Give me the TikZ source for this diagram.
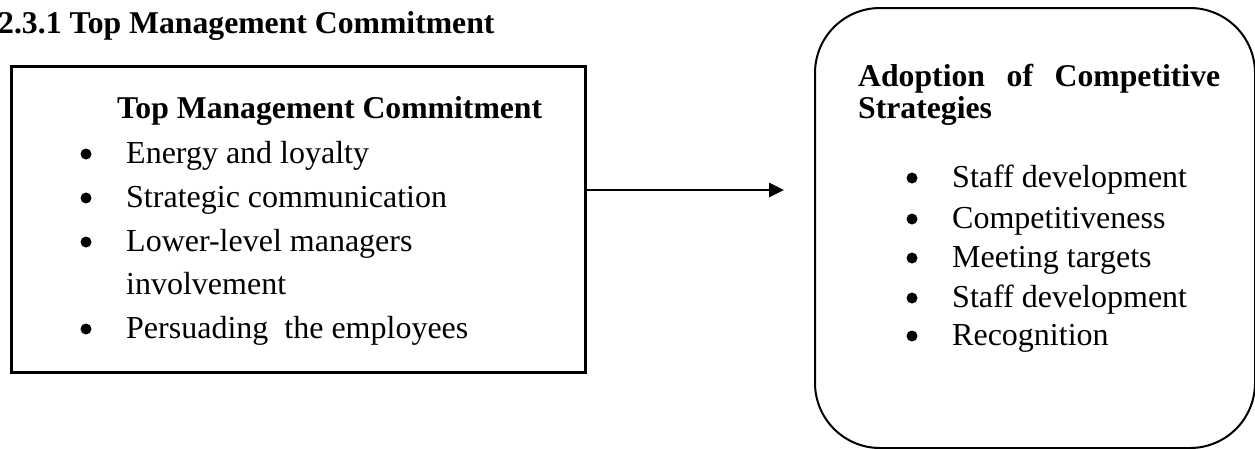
\documentclass[tikz,border=0pt]{standalone}
\usepackage{fontspec}
\setmainfont{Liberation Serif}
\usetikzlibrary{arrows.meta}
\begin{document}
\begin{tikzpicture}[x=1pt,y=-1pt,
  txt/.style={inner sep=0pt, anchor=base west, font=\fontsize{32}{38}\selectfont},
  bold/.style={inner sep=0pt, anchor=base west, font=\fontsize{31.7}{38}\selectfont\bfseries},
  box/.style={draw, inner sep=0pt, anchor=north west}]
\useasboundingbox (0,0) rectangle (1255,448);
\node[bold] (h) at (-2,33) {2.3.1 Top Management Commitment};
% left box
\node[box, line width=3pt, minimum width=574pt, minimum height=306pt] (L) at (10,65) {};
\node[bold] (lt) at (117,118) {Top Management Commitment};
\foreach \y/\t [count=\i] in {163/Energy and loyalty, 207/Strategic communication, 251/Lower-level managers, 338/Persuading\ \ the employees}{
  \fill (86,\y-9) circle (5.5);
  \node[txt] (li\i) at (126,\y) {\t};
}
\node[txt] (lx) at (126,294) {involvement};
% right box
\node[box, line width=2pt, minimum width=440pt, minimum height=440pt, rounded corners=65pt] (R) at (814,7) {};
\node[bold] (rt1) at (858,86) {\hbox to 362pt{Adoption\hfil of\hfil Competitive}};
\node[bold] (rt2) at (858,118) {Strategies};
\foreach \y/\t [count=\i] in {187/Staff development, 228/Competitiveness, 267/Meeting targets, 307/Staff development, 345/Recognition}{
  \fill (912,\y-9) circle (5.5);
  \node[txt] (ri\i) at (952,\y) {\t};
}
% arrow
\coordinate (ay) at (0,190);
\coordinate (tip) at (784,190);
\draw[line width=2.8pt, -{Triangle[length=15pt,width=14pt]}] (L.east |- ay) -- (tip);
\end{tikzpicture}
\end{document}
